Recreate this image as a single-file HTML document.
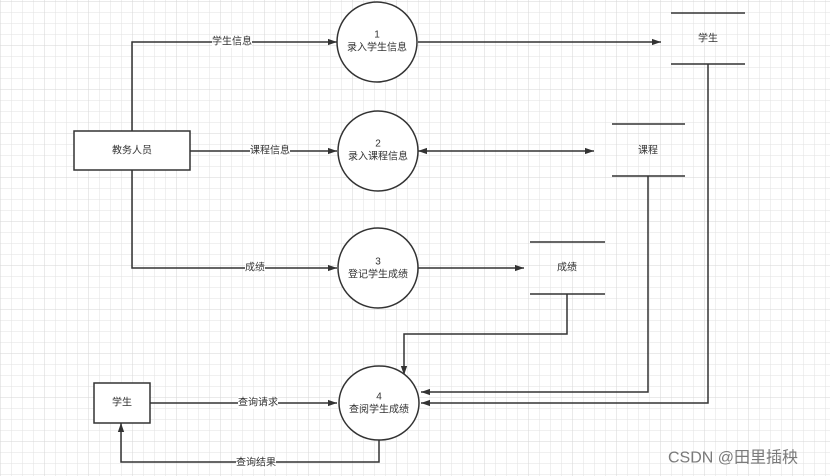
<!DOCTYPE html>
<html><head><meta charset="utf-8"><style>
html,body{margin:0;padding:0;background:#fff}
svg{display:block}
text{font-family:"Liberation Sans","Noto Sans CJK SC",sans-serif;font-size:10px;fill:#333;text-anchor:middle;dominant-baseline:central}
</style></head><body>
<svg width="830" height="476" viewBox="0 0 830 476" xmlns="http://www.w3.org/2000/svg">
<defs>
<pattern id="g" width="11" height="11" patternUnits="userSpaceOnUse" x="1" y="2">
<path d="M11 0V11M0 11H11" stroke="#e2e2e2" stroke-width="1" fill="none"/>
</pattern>
<pattern id="G" width="44" height="44" patternUnits="userSpaceOnUse" x="1" y="2">
<path d="M44 0V44M0 44H44" stroke="#d6d6d6" stroke-width="1" fill="none"/>
</pattern>
<marker id="a" viewBox="0 0 10 10" refX="10" refY="5" markerWidth="9" markerHeight="9" orient="auto-start-reverse" markerUnits="userSpaceOnUse">
<path d="M0 1.5L10 5L0 8.5z" fill="#333"/>
</marker>
</defs>
<rect width="830" height="476" fill="url(#g)"/>
<rect width="830" height="476" fill="url(#G)"/>
<g stroke="#333" stroke-width="1.5" fill="none">
<path d="M132 131V42H337" marker-end="url(#a)"/>
<path d="M190 151H337" marker-end="url(#a)"/>
<path d="M132 170V268H337" marker-end="url(#a)"/>
<path d="M418 42H661" marker-end="url(#a)"/>
<path d="M418 151H594" marker-end="url(#a)" marker-start="url(#a)"/>
<path d="M418 268H524" marker-end="url(#a)"/>
<path d="M567 294V334H404V375" marker-end="url(#a)"/>
<path d="M648 176V392H421" marker-end="url(#a)"/>
<path d="M708 64V403H421" marker-end="url(#a)"/>
<path d="M150 403H337" marker-end="url(#a)"/>
<path d="M379 440V462H121V423" marker-end="url(#a)"/>
<path d="M671 13H745M671 64H745M612 124H685M612 176H685M530 242H605M530 294H605"/>
</g>
<g stroke="#333" stroke-width="1.5" fill="#fff">
<rect x="74" y="131" width="116" height="39"/>
<rect x="94" y="383" width="56" height="40"/>
<circle cx="377" cy="42" r="40"/>
<circle cx="378" cy="151" r="40"/>
<circle cx="378" cy="268" r="40"/>
<ellipse cx="379" cy="403" rx="40" ry="37"/>
</g>
<g>
<rect x="212" y="36" width="40" height="12" fill="#fff"/><text x="232" y="42">学生信息</text>
<rect x="250" y="145" width="40" height="12" fill="#fff"/><text x="270" y="151">课程信息</text>
<rect x="245" y="262" width="20" height="12" fill="#fff"/><text x="255" y="268">成绩</text>
<rect x="238" y="397" width="40" height="12" fill="#fff"/><text x="258" y="403">查询请求</text>
<rect x="236" y="457" width="40" height="12" fill="#fff"/><text x="256" y="463">查询结果</text>
<text x="377" y="35">1</text><text x="377" y="48">录入学生信息</text>
<text x="378" y="144">2</text><text x="378" y="157">录入课程信息</text>
<text x="378" y="262">3</text><text x="378" y="275">登记学生成绩</text>
<text x="379" y="397">4</text><text x="379" y="410">查阅学生成绩</text>
<text x="132" y="151">教务人员</text>
<text x="122" y="403">学生</text>
<text x="708" y="39">学生</text>
<text x="648" y="151">课程</text>
<text x="567" y="268">成绩</text>
<text x="733" y="458" style="font-size:16px;fill:#7a7a7a">CSDN @田里插秧</text>
</g>
</svg>
</body></html>
